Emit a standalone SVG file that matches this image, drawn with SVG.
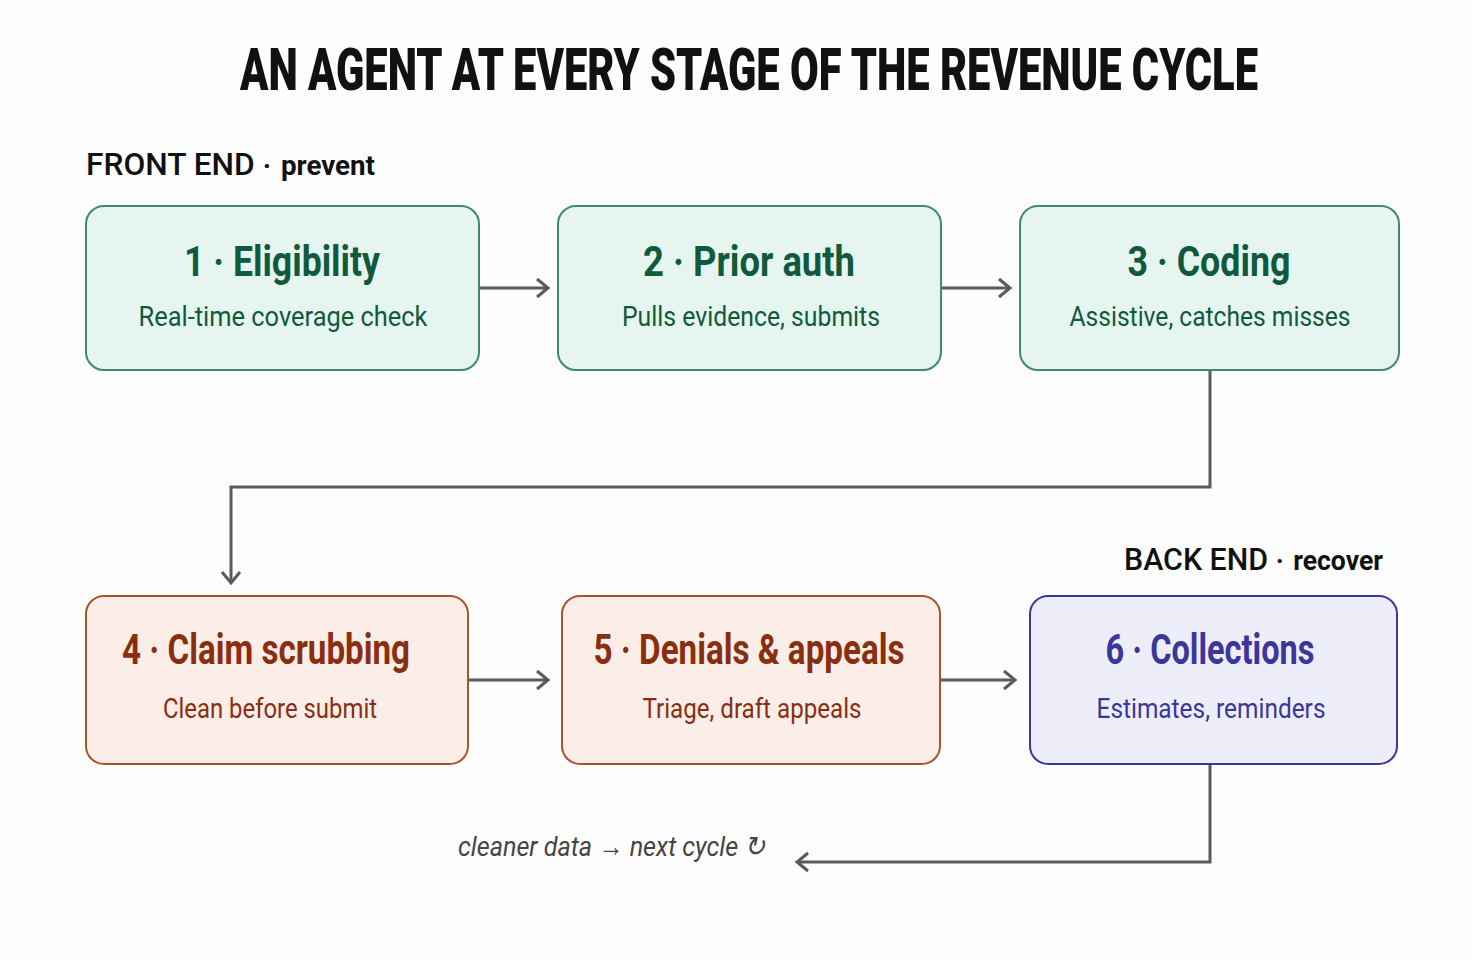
<svg xmlns="http://www.w3.org/2000/svg" width="1472" height="960" viewBox="0 0 1472 960">
<style>
.bg{fill:#fdfdfd}
.title{font-family:Roboto,"Liberation Sans",sans-serif;font-weight:900;font-size:50px;fill:#111}
.sec{font-family:Roboto,"Liberation Sans",sans-serif;font-weight:500;font-size:32px;fill:#111}
.secs{font-weight:700;font-size:28px}
.nt{font-family:Roboto,"Liberation Sans",sans-serif;font-weight:700;font-size:42px;text-anchor:middle}
.ns{font-family:Roboto,"Liberation Sans",sans-serif;font-weight:400;font-size:28px;text-anchor:middle}
.g rect{fill:#e6f5ef;stroke:#3f8a68;stroke-width:2}
.g text{fill:#0f5a3c}
.o rect{fill:#fbede7;stroke:#a5542e;stroke-width:2}
.o text{fill:#8a2e10}
.p rect{fill:#eeeefb;stroke:#3d3799;stroke-width:2}
.p text{fill:#3b359c}
.conn{fill:none;stroke:#5a5a5a;stroke-width:3}
.note{font-family:Roboto,"Liberation Sans",sans-serif;font-style:italic;font-size:28px;fill:#444}
</style>
<defs>
<marker id="arr" markerWidth="16" markerHeight="22" refX="13" refY="11" orient="auto" markerUnits="userSpaceOnUse">
<path d="M2,2 L13,11 L2,20" fill="none" stroke="#5a5a5a" stroke-width="3"/>
</marker>
</defs>
<rect class="bg" width="1472" height="960"/>
<text class="title" transform="translate(240,90) scale(1,1.2)" x="0" y="0" textLength="1018" lengthAdjust="spacingAndGlyphs">AN AGENT AT EVERY STAGE OF THE REVENUE CYCLE</text>
<g id="label-front">
<text class="sec" x="86" y="175" textLength="289" lengthAdjust="spacingAndGlyphs">FRONT END<tspan class="secs" dx="8">·</tspan><tspan class="secs" dx="10">prevent</tspan></text>
</g>
<g id="label-back">
<text class="sec" x="1124" y="570" textLength="259" lengthAdjust="spacingAndGlyphs">BACK END<tspan class="secs" dx="8">·</tspan><tspan class="secs" dx="10">recover</tspan></text>
</g>
<g id="connectors">
<line class="conn" x1="480" y1="288" x2="548" y2="288" marker-end="url(#arr)"/>
<line class="conn" x1="942" y1="288" x2="1010" y2="288" marker-end="url(#arr)"/>
<path class="conn" d="M1210,371 V487 H231 V583" marker-end="url(#arr)"/>
<line class="conn" x1="469" y1="680" x2="548" y2="680" marker-end="url(#arr)"/>
<line class="conn" x1="941" y1="680" x2="1015" y2="680" marker-end="url(#arr)"/>
<path class="conn" d="M1210,765 V862 H797" marker-end="url(#arr)"/>
</g>
<g id="n1" class="g">
<rect x="86" y="206" width="393" height="164" rx="18"/>
<text class="nt" x="282" y="276" textLength="196" lengthAdjust="spacingAndGlyphs">1 · Eligibility</text>
<text class="ns" x="283" y="326" textLength="289" lengthAdjust="spacingAndGlyphs">Real-time coverage check</text>
</g>
<g id="n2" class="g">
<rect x="558" y="206" width="383" height="164" rx="18"/>
<text class="nt" x="749" y="276" textLength="212" lengthAdjust="spacingAndGlyphs">2 · Prior auth</text>
<text class="ns" x="751" y="326" textLength="258" lengthAdjust="spacingAndGlyphs">Pulls evidence, submits</text>
</g>
<g id="n3" class="g">
<rect x="1020" y="206" width="379" height="164" rx="18"/>
<text class="nt" x="1209" y="276" textLength="163" lengthAdjust="spacingAndGlyphs">3 · Coding</text>
<text class="ns" x="1210" y="326" textLength="281" lengthAdjust="spacingAndGlyphs">Assistive, catches misses</text>
</g>
<g id="n4" class="o">
<rect x="86" y="596" width="382" height="168" rx="18"/>
<text class="nt" x="266" y="664" textLength="288" lengthAdjust="spacingAndGlyphs">4 · Claim scrubbing</text>
<text class="ns" x="270" y="718" textLength="214" lengthAdjust="spacingAndGlyphs">Clean before submit</text>
</g>
<g id="n5" class="o">
<rect x="562" y="596" width="378" height="168" rx="18"/>
<text class="nt" x="749" y="664" textLength="311" lengthAdjust="spacingAndGlyphs">5 · Denials &amp; appeals</text>
<text class="ns" x="752" y="718" textLength="219" lengthAdjust="spacingAndGlyphs">Triage, draft appeals</text>
</g>
<g id="n6" class="p">
<rect x="1030" y="596" width="367" height="168" rx="18"/>
<text class="nt" x="1210" y="664" textLength="209" lengthAdjust="spacingAndGlyphs">6 · Collections</text>
<text class="ns" x="1211" y="718" textLength="229" lengthAdjust="spacingAndGlyphs">Estimates, reminders</text>
</g>
<text class="note" x="458" y="856" textLength="307" lengthAdjust="spacingAndGlyphs">cleaner data → next cycle ↻</text>
</svg>
